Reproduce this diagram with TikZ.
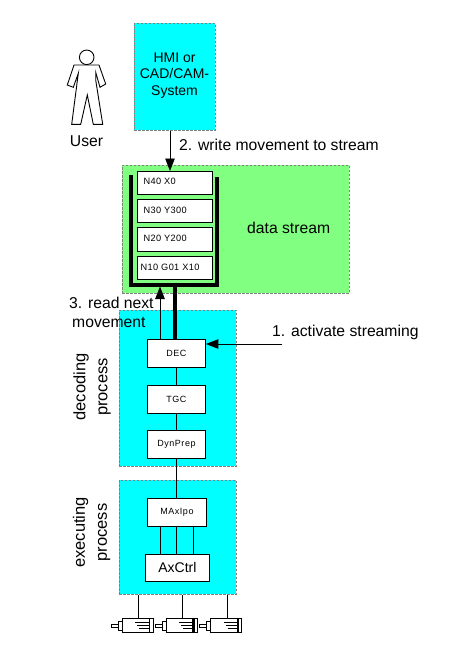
\documentclass[tikz,border=0pt]{standalone}
\usepackage{fontspec}
\setmainfont{Liberation Sans}
\usetikzlibrary{arrows.meta,calc}
\definecolor{cyanfill}{RGB}{0,255,255}
\definecolor{greenfill}{RGB}{128,255,128}
\definecolor{dashgray}{RGB}{128,128,128}
\tikzset{
  region/.style={draw=dashgray,dashed,dash pattern=on 2.5pt off 1.5pt,line width=0.8pt,inner sep=0pt,anchor=north west},
  cyanregion/.style={region,fill=cyanfill},
  greenregion/.style={region,fill=greenfill},
  wbox/.style={draw=black,fill=white,line width=0.9pt,inner sep=0pt,anchor=north west,font=\fontsize{9}{10}\selectfont\addfontfeatures{LetterSpace=6}},
  streamtxt/.style={font=\fontsize{9.2}{10}\selectfont\addfontfeatures{LetterSpace=4}},
  label/.style={inner sep=0pt,font=\fontsize{15.7}{19}\selectfont,align=center},
  conn/.style={draw=black,line width=0.9pt},
  thickbar/.style={draw=black,line width=3.6pt},
  headed/.style={conn,-{Triangle[length=12.5pt,width=9.5pt]}},
  motorline/.style={draw=black,line width=0.8pt},
}
\newcommand{\motor}[2]{%
  \begin{scope}[xshift=#1pt]
    \draw[motorline,fill=white] (111,624) rectangle (118,627);
    \draw[motorline,fill=white] (118,621) rectangle (122,630);
    \draw[motorline,fill=white] (122,618) rectangle (153,632);
    \draw[motorline] (135,622) -- (149,622) (137,625) -- (149,625) (139,628) -- (149,628);
    \draw[draw=black,line width=#2pt] (149.5,618) -- (149.5,632);
  \end{scope}}
\begin{document}
\begin{tikzpicture}[x=1pt,y=-1pt]
\useasboundingbox (0,0) rectangle (448,645);
\fill[white] (0,0) rectangle (448,645);
% regions
\node[cyanregion,minimum width=81pt,minimum height=107pt] (hmi) at (134,23) {};
\node[label,align=center,font=\fontsize{14}{16.5}\selectfont] (hmitxt) at (174.5,75.5) {HMI or\\CAD/CAM-\\System};
\node[greenregion,minimum width=227pt,minimum height=128pt] (stream) at (122,165) {};
\node[cyanregion,minimum width=117pt,minimum height=156pt] (decoding) at (119,310) {};
\node[cyanregion,minimum width=117pt,minimum height=114pt] (executing) at (119,480) {};
% person
\draw[draw=black,line width=0.9pt,fill=white] (74,65) -- (99,65) -- (105.7,84) -- (100,87.3) -- (95.7,72.3) -- (95.7,80) -- (102.7,124.3) -- (93.3,124.3) -- (87.3,95) -- (80.7,124.3) -- (71.7,124.3) -- (78.3,73.3) -- (73.3,87.3) -- (67.3,85) -- cycle;
\node[draw=black,line width=0.9pt,fill=white,circle,minimum size=14.6pt,inner sep=0pt] (head) at (86.7,57.3) {};
\node[label] (user) at (86.5,141) {User};
% stream boxes
\node[wbox,minimum width=75pt,minimum height=23pt] (n40) at (137,171) {};
\node[wbox,minimum width=75pt,minimum height=23pt] (n30) at (137,199) {};
\node[wbox,minimum width=75pt,minimum height=24pt] (n20) at (137,227) {};
\node[wbox,minimum width=75pt,minimum height=23pt] (n10) at (137,256) {};
\node[streamtxt,inner sep=0pt,anchor=west] (n40t) at (143.5,181.5) {N40 X0};
\node[streamtxt,inner sep=0pt,anchor=west] (n30t) at (143.5,210.5) {N30 Y300};
\node[streamtxt,inner sep=0pt,anchor=west] (n20t) at (143.5,238.5) {N20 Y200};
\node[streamtxt,inner sep=0pt,anchor=west] (n10t) at (140.5,267) {N10 G01 X10};
% thick tube
\coordinate (tl) at (131,175);
\coordinate (tr) at (217,177);
\coordinate (bl) at (131,285);
\coordinate (br) at (217,285);
\coordinate (stemtop) at (175,285);
\draw[thickbar,miter limit=10] (tl) -- (bl) -- (br) -- (tr);
% process boxes
\node[wbox,minimum width=58pt,minimum height=28pt] (dec) at (147,339) {DEC};
\node[wbox,minimum width=58pt,minimum height=28pt] (tgc) at (147,385) {TGC};
\node[wbox,minimum width=58pt,minimum height=28pt] (dyn) at (147,430) {DynPrep};
\node[wbox,minimum width=59pt,minimum height=28pt] (max) at (147,498) {MAxIpo};
\node[wbox,minimum width=64pt,minimum height=27pt,font=\fontsize{14}{15}\selectfont] (ax) at (145,554) {AxCtrl};
% connectors
\draw[thickbar] (stemtop) -- (stemtop |- dec.north);
\draw[headed] (dec.north -| 160,0) -- (160,286.5);
\draw[conn] (dec.south -| 176,0) -- (tgc.north -| 176,0);
\draw[conn] (tgc.south -| 176,0) -- (dyn.north -| 176,0);
\draw[conn] (dyn.south -| 176,0) -- (max.north -| 176,0);
\draw[conn] (max.south -| 160,0) -- (ax.north -| 160,0);
\draw[conn] (max.south -| 176,0) -- (ax.north -| 176,0);
\draw[conn] (max.south -| 193,0) -- (ax.north -| 193,0);
\draw[headed] (hmi.south -| 170,0) -- (n40.north -| 170,0);
\coordinate (activate) at (282,344);
\draw[headed] (activate) -- (dec.east |- activate);
\coordinate (m1) at (138,618);
\coordinate (m2) at (182,618);
\coordinate (m3) at (227,618);
\draw[conn] (executing.south -| m1) -- (m1);
\draw[conn] (executing.south -| m2) -- (m2);
\draw[conn] (executing.south -| m3) -- (m3);
% motors
\motor{0}{0.9}
\motor{44}{2.5}
\motor{88.5}{2.5}
% labels
\node[label,anchor=west] (write) at (179,145) {2. write movement to stream};
\node[label,anchor=west] (dstream) at (247,228) {data stream};
\node[label,anchor=west] (act) at (272,332) {1. activate streaming};
\node[label,anchor=west,align=left] (read) at (69,312.5) {3. read next\\\hspace*{3pt}movement};
\node[label,rotate=90,font=\fontsize{16.5}{22}\selectfont] (decl) at (92,387) {decoding\\process};
\node[label,rotate=90,font=\fontsize{16.5}{22}\selectfont] (exel) at (91.5,532.5) {executing\\process};
\end{tikzpicture}
\end{document}
